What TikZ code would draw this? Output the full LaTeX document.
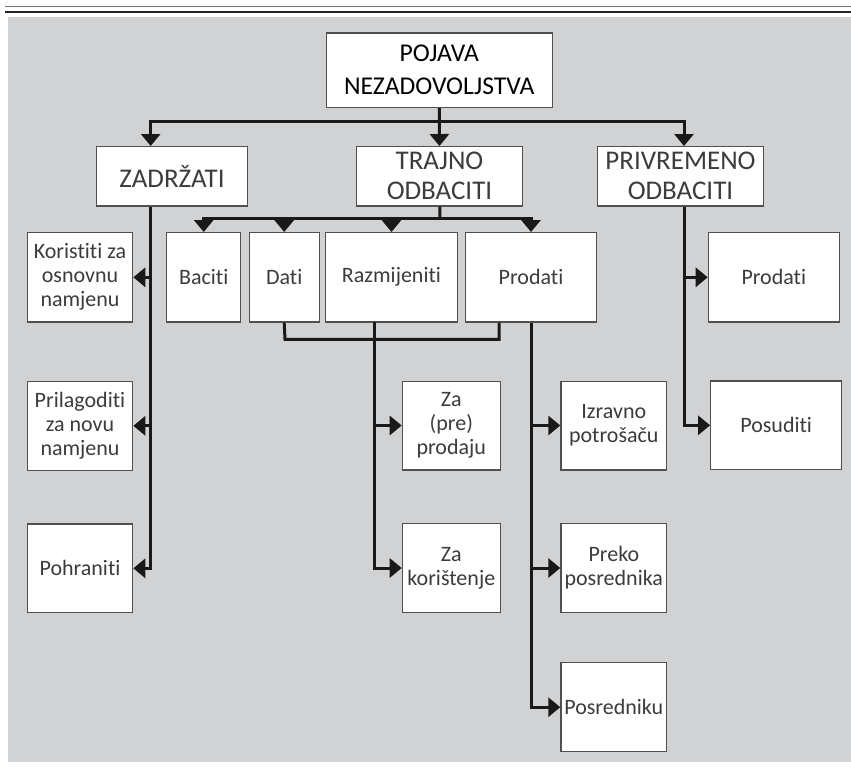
\documentclass[tikz,border=0pt]{standalone}
\usepackage{fontspec}
\setmainfont{Carlito}[Ligatures={NoCommon,NoContextual},Contextuals=NoAlternate]
\usetikzlibrary{arrows.meta}
\definecolor{panelgray}{RGB}{209,210,212}
\definecolor{boxline}{RGB}{80,80,80}
\definecolor{txtgray}{RGB}{60,60,60}

\begin{document}
\begin{tikzpicture}[x=0.5pt, y=-0.5pt, >={Triangle[width=9.5pt,length=6pt]},
		box/.style={draw=boxline, line width=0.6pt, fill=white, align=center, inner sep=0pt, text=txtgray, font=\fontsize{11}{12}\selectfont},
		head/.style={box, font=\fontsize{13.5}{15}\selectfont},
		link/.style={line width=1.5pt, black!90}]
		\useasboundingbox (0,0) rectangle (851,767);
		\draw[black!55, line width=0.7pt] (5,6.7) -- (851,6.7);
		\draw[black!85, line width=0.8pt] (5,11.7) -- (851,11.7);
		\fill[panelgray] (8,17.3) rectangle (851,761.7);

		\node[head, text=black, font=\fontsize{12.8}{16.5}\selectfont, minimum width=113pt, minimum height=37.2pt] (root) at (439.3,70.2) {POJAVA\\NEZADOVOLJSTVA};
		\node[head, minimum width=75.3pt, minimum height=29.7pt] (zad) at (172,176.3) {ZADRŽATI};
		\node[head, minimum width=82.8pt, minimum height=29.7pt] (tra) at (439.5,176.3) {TRAJNO\\ODBACITI};
		\node[head, minimum width=82.8pt, minimum height=29.7pt] (pri) at (680.5,176.3) {PRIVREMENO\\ODBACITI};

		\node[box, minimum width=52.7pt, minimum height=44.7pt] (kor) at (80,277.3) {Koristiti za\\osnovnu\\namjenu};
		\node[box, minimum width=37pt, minimum height=44.7pt] (bac) at (203.7,277.3) {Baciti};
		\node[box, minimum width=34.9pt, minimum height=44.7pt] (dat) at (284.2,277.3) {Dati};
		\node[box, minimum width=65.8pt, minimum height=44.7pt] (raz) at (391.5,277.3) {Razmijeniti};
		\node[box, minimum width=65.7pt, minimum height=44.7pt] (pro) at (531,277.3) {Prodati};
		\node[box, minimum width=65.5pt, minimum height=44.7pt] (prv) at (773.8,277.3) {Prodati};

		\node[box, minimum width=52.7pt, minimum height=44.4pt] (pril) at (80,425.8) {Prilagoditi\\za novu\\namjenu};
		\node[box, minimum width=49pt, minimum height=44.4pt] (zpp) at (451.3,425.5) {Za\\(pre)\\prodaju};
		\node[box, minimum width=52.9pt, minimum height=44.4pt] (izr) at (613.8,425.5) {Izravno\\potrošaču};
		\node[box, minimum width=65.5pt, minimum height=44.4pt] (posud) at (776.2,425.3) {Posuditi};

		\node[box, minimum width=52.7pt, minimum height=44.4pt] (poh) at (80,568.3) {Pohraniti};
		\node[box, minimum width=49pt, minimum height=44.4pt] (zk) at (451.3,568) {Za\\korištenje};
		\node[box, minimum width=52.9pt, minimum height=44.4pt] (pre) at (613.8,568) {Preko\\posrednika};
		\node[box, minimum width=52.9pt, minimum height=44.5pt] (pos) at (613.8,707.2) {Posredniku};

		\coordinate (zadtop) at (150.7,121.7);
		\coordinate (pritop) at (684,121.7);
		\coordinate (trabar) at (440,218.3);
		\coordinate (brkl) at (285,339.3);
		\coordinate (brkr) at (499,339.3);
		\coordinate (razstem) at (374,322);

		\draw[link, <->] (zadtop |- zad.north) -- (zadtop) -- (pritop) -- (pritop |- pri.north);
		\draw[link, ->] (root) -- (tra);

		\draw[link, ->] (zadtop |- zad.south) |- (poh.east);
		\foreach \n in {kor,pril}
			\draw[link, ->] (zadtop |- \n) -- (\n.east);

		\draw[link] (tra) -- (trabar);
		\draw[link, <->] (bac.north) -- (bac.north |- trabar) -- (pro.north |- trabar) -- (pro.north);
		\foreach \n in {dat,raz}
			\draw[link, ->] (\n.north |- trabar) -- (\n.north);

		\draw[link] (dat.south) -- (brkl) -- (brkr) -- (brkr |- pro.south);
		\draw[link, ->] (razstem) |- (zk.west);
		\draw[link, ->] (razstem |- zpp) -- (zpp.west);

		\draw[link, ->] (pro.south) |- (pos.west);
		\foreach \n in {izr,pre}
			\draw[link, ->] (pro.south |- \n) -- (\n.west);

		\draw[link, ->] (pritop |- pri.south) |- (posud.west);
		\draw[link, ->] (pritop |- prv) -- (prv.west);
	\end{tikzpicture}
\end{document}
